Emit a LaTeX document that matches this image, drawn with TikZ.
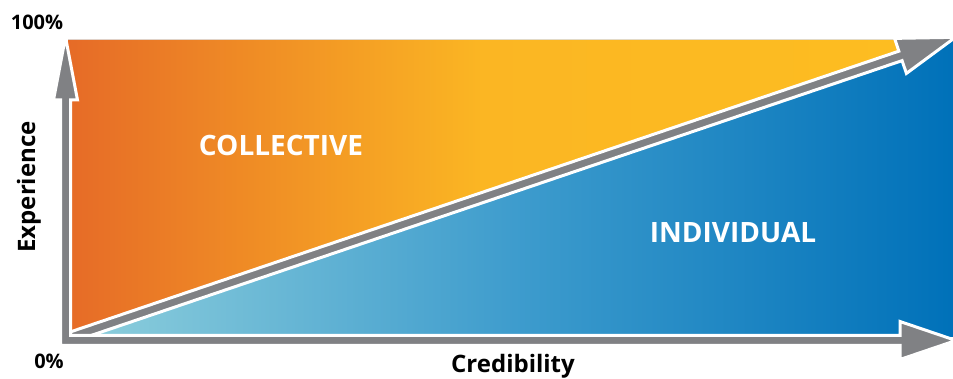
\documentclass[tikz,border=0pt]{standalone}
\usepackage{fontspec}
\setmainfont{Open Sans}
\definecolor{collectiveleft}{HTML}{E66B27}
\definecolor{collectivemid}{HTML}{FBB623}
\definecolor{collectiveright}{HTML}{FDBD21}
\definecolor{individualleft}{HTML}{8ECFDC}
\definecolor{individualmid}{HTML}{3E9CCD}
\definecolor{individualright}{HTML}{0071B9}
\definecolor{axisgray}{HTML}{808184}
\begin{document}
\begin{tikzpicture}
  [x=1pt,y=1pt,
   axis arrow/.style={fill=axisgray,draw=white,line width=3pt},
   region label/.style={text=white,font=\fontsize{28}{28}\selectfont\bfseries},
   axis label/.style={text=black,font=\fontsize{24}{24}\selectfont\bfseries},
   percent label/.style={text=black,font=\fontsize{20}{20}\selectfont\bfseries}]
\useasboundingbox (0,0) rectangle (953,379);

% the two regions
\fill[left color=collectiveleft,right color=collectiveright,middle color=collectivemid]
  (68,40) -- (68,339) -- (897,339) -- (897,320) -- cycle;
\fill[left color=individualleft,right color=individualright,middle color=individualmid]
  (75,42) -- (953,42) -- (953,341) -- (900,320) -- cycle;

% diagonal arrow
\begin{scope}[shift={(68,41)},rotate=18.72]
  \filldraw[axis arrow] (-5,-5) -- (879,-5) -- (879,-18.5) -- (937,0)
    -- (879,18.5) -- (879,5) -- (-5,5) -- cycle;
\end{scope}

% axes
\coordinate (origin) at (60.5,33.5);
\coordinate (ytip) at (65.5,342);
\coordinate (xtip) at (956,38.5);
\filldraw[axis arrow] (origin) -- (60.5,279) -- (53.5,279) -- (ytip)
  -- (77.5,279) -- (70.5,279) -- (70.5,43.5) -- (900,43.5) -- (900,57.5)
  -- (xtip) -- (900,19.5) -- (900,33.5) -- cycle;

\node (collective)[region label] at (281,234) {COLLECTIVE};
\node (individual)[region label] at (733,146) {INDIVIDUAL};
\node (experience)[axis label,rotate=90] at (29,192) {Experience};
\node (credibility)[axis label] at (513,13) {Credibility};
\node (top)[percent label] at (37,357) {100\%};
\node (bottom)[percent label] at (49,18) {0\%};
\end{tikzpicture}
\end{document}
